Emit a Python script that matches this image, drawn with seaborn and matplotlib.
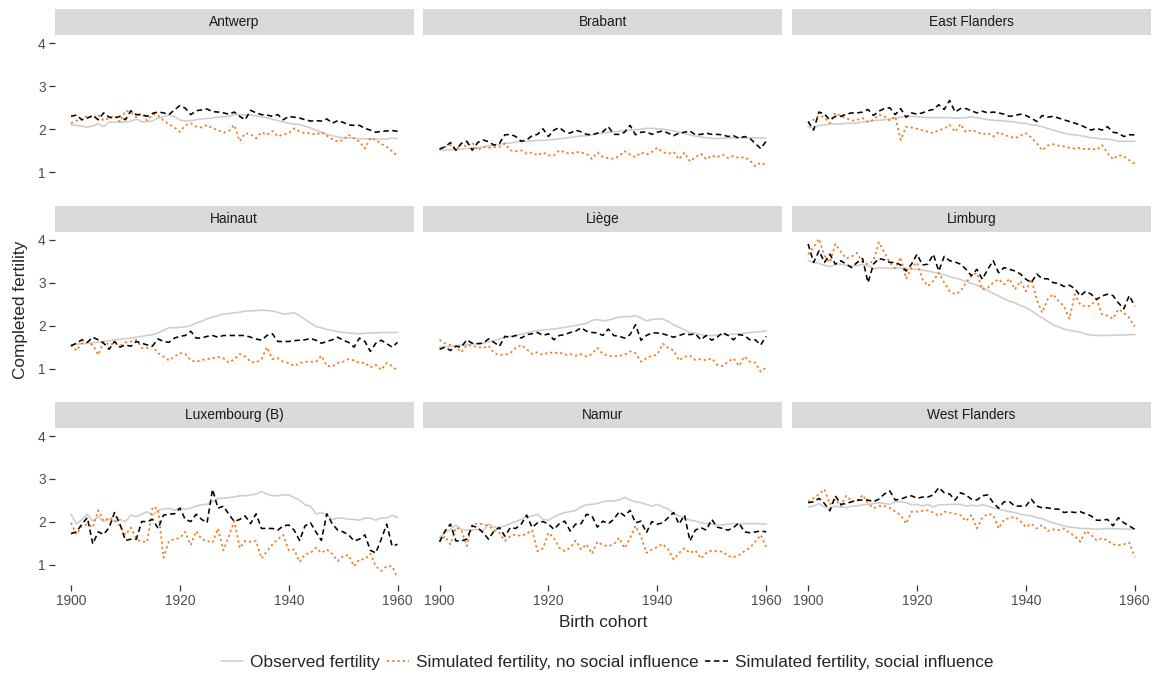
import matplotlib
matplotlib.use("Agg")
import matplotlib.pyplot as plt
from matplotlib.lines import Line2D
from matplotlib.patches import Rectangle
import pandas as pd
import seaborn as sns

# birth cohorts 1900..1960, one value per year
years = list(range(1900, 1961))
provinces = ["Antwerp", "Brabant", "East Flanders", "Hainaut", "Liège", "Limburg",
             "Luxembourg (B)", "Namur", "West Flanders"]
series_names = ["Observed fertility",
                "Simulated fertility, no social influence",
                "Simulated fertility, social influence"]

# --- Antwerp
obs_antwerp = [2.10, 2.09, 2.07, 2.05, 2.08, 2.13, 2.06, 2.17, 2.17, 2.17,
               2.17, 2.18, 2.24, 2.17, 2.18, 2.19, 2.26, 2.29, 2.33, 2.30,
               2.21, 2.19, 2.20, 2.22, 2.24, 2.25, 2.26, 2.28, 2.29, 2.30,
               2.34, 2.34, 2.33, 2.33, 2.31, 2.29, 2.27, 2.23, 2.20, 2.17,
               2.14, 2.12, 2.11, 2.07, 2.03, 1.98, 1.93, 1.88, 1.85, 1.82,
               1.80, 1.80, 1.79, 1.78, 1.78, 1.77, 1.77, 1.77, 1.77, 1.80,
               1.78]
nosoc_antwerp = [2.14, 2.20, 2.22, 2.32, 2.26, 2.34, 2.20, 2.26, 2.32, 2.17,
                 2.43, 2.40, 2.28, 2.37, 2.20, 2.35, 2.32, 2.20, 2.12, 2.04,
                 1.94, 2.09, 2.14, 2.06, 2.04, 2.10, 2.02, 1.98, 1.92, 1.96,
                 2.10, 1.72, 1.91, 1.88, 1.79, 1.93, 1.87, 1.96, 1.83, 1.88,
                 1.91, 2.02, 1.94, 1.91, 1.91, 1.87, 1.93, 1.85, 1.77, 1.71,
                 1.75, 1.87, 1.79, 1.71, 1.55, 1.80, 1.75, 1.66, 1.59, 1.49,
                 1.38]
soc_antwerp = [2.30, 2.33, 2.22, 2.26, 2.32, 2.22, 2.38, 2.28, 2.26, 2.30,
               2.22, 2.43, 2.34, 2.34, 2.30, 2.37, 2.40, 2.38, 2.34, 2.45,
               2.55, 2.49, 2.34, 2.43, 2.45, 2.47, 2.41, 2.40, 2.38, 2.35,
               2.40, 2.30, 2.22, 2.44, 2.38, 2.34, 2.33, 2.30, 2.34, 2.22,
               2.30, 2.28, 2.26, 2.22, 2.19, 2.20, 2.19, 2.24, 2.14, 2.20,
               2.16, 2.10, 2.09, 2.09, 2.02, 1.98, 1.93, 1.95, 1.96, 1.97,
               1.95]

# --- Brabant
obs_brabant = [1.51, 1.52, 1.52, 1.53, 1.54, 1.55, 1.56, 1.57, 1.59, 1.61,
               1.63, 1.65, 1.67, 1.68, 1.70, 1.71, 1.72, 1.73, 1.74, 1.74,
               1.75, 1.76, 1.78, 1.79, 1.81, 1.83, 1.84, 1.85, 1.87, 1.89,
               1.91, 1.93, 1.94, 1.95, 1.97, 1.98, 1.99, 2.00, 2.02, 2.02,
               2.01, 2.00, 1.98, 1.96, 1.93, 1.90, 1.87, 1.84, 1.82, 1.80,
               1.79, 1.78, 1.79, 1.80, 1.80, 1.80, 1.80, 1.80, 1.80, 1.80,
               1.80]
nosoc_brabant = [1.54, 1.59, 1.63, 1.51, 1.67, 1.59, 1.69, 1.51, 1.59, 1.57,
                 1.58, 1.59, 1.67, 1.51, 1.49, 1.51, 1.43, 1.46, 1.39, 1.46,
                 1.39, 1.39, 1.51, 1.46, 1.43, 1.47, 1.46, 1.43, 1.31, 1.46,
                 1.35, 1.33, 1.31, 1.38, 1.49, 1.41, 1.35, 1.46, 1.41, 1.47,
                 1.57, 1.47, 1.43, 1.47, 1.30, 1.46, 1.25, 1.35, 1.43, 1.30,
                 1.39, 1.35, 1.41, 1.33, 1.38, 1.33, 1.35, 1.28, 1.14, 1.22,
                 1.16]
soc_brabant = [1.54, 1.59, 1.69, 1.51, 1.67, 1.72, 1.51, 1.69, 1.75, 1.71,
               1.63, 1.67, 1.87, 1.88, 1.83, 1.72, 1.75, 1.85, 1.88, 2.01,
               1.83, 1.98, 2.04, 1.94, 1.91, 1.98, 1.94, 1.88, 1.87, 1.91,
               1.94, 2.06, 1.88, 1.88, 1.93, 2.09, 1.87, 1.93, 1.94, 1.88,
               1.93, 1.96, 1.91, 1.85, 1.91, 1.93, 1.96, 1.87, 1.88, 1.91,
               1.88, 1.88, 1.87, 1.83, 1.85, 1.79, 1.83, 1.79, 1.67, 1.55,
               1.72]

# --- East Flanders
obs_eflanders = [2.06, 2.02, 2.09, 2.10, 2.12, 2.12, 2.12, 2.14, 2.14, 2.14,
                 2.17, 2.18, 2.20, 2.21, 2.22, 2.24, 2.26, 2.28, 2.29, 2.30,
                 2.29, 2.28, 2.27, 2.27, 2.27, 2.27, 2.27, 2.26, 2.26, 2.27,
                 2.29, 2.27, 2.25, 2.22, 2.21, 2.20, 2.19, 2.18, 2.17, 2.14,
                 2.14, 2.10, 2.09, 2.06, 2.02, 1.98, 1.94, 1.91, 1.88, 1.87,
                 1.85, 1.83, 1.80, 1.79, 1.77, 1.77, 1.75, 1.72, 1.72, 1.72,
                 1.72]
nosoc_eflanders = [2.14, 2.22, 2.32, 2.28, 2.14, 2.38, 2.30, 2.26, 2.20, 2.22,
                   2.26, 2.17, 2.22, 2.34, 2.30, 2.20, 2.30, 1.75, 2.06, 2.04,
                   2.01, 1.98, 1.94, 1.91, 1.98, 2.01, 2.10, 1.94, 2.12, 1.93,
                   1.98, 1.94, 1.88, 1.91, 1.83, 1.93, 1.87, 1.83, 1.79, 1.85,
                   1.91, 1.81, 1.67, 1.51, 1.62, 1.65, 1.62, 1.60, 1.57, 1.55,
                   1.57, 1.53, 1.55, 1.52, 1.63, 1.45, 1.30, 1.40, 1.37, 1.28,
                   1.20]
soc_eflanders = [2.18, 1.98, 2.40, 2.35, 2.22, 2.30, 2.30, 2.35, 2.38, 2.38,
                 2.40, 2.46, 2.32, 2.42, 2.48, 2.50, 2.34, 2.48, 2.28, 2.38,
                 2.35, 2.38, 2.43, 2.46, 2.57, 2.46, 2.67, 2.40, 2.48, 2.48,
                 2.43, 2.38, 2.42, 2.38, 2.40, 2.38, 2.35, 2.30, 2.32, 2.35,
                 2.32, 2.26, 2.18, 2.32, 2.28, 2.30, 2.26, 2.22, 2.18, 2.14,
                 2.10, 2.04, 1.98, 2.02, 1.98, 2.06, 1.93, 1.91, 1.83, 1.87,
                 1.87]

# --- Hainaut
obs_hainaut = [1.55, 1.57, 1.58, 1.59, 1.60, 1.62, 1.63, 1.65, 1.67, 1.68,
               1.70, 1.71, 1.73, 1.75, 1.77, 1.79, 1.83, 1.89, 1.95, 1.95,
               1.96, 1.97, 2.00, 2.06, 2.10, 2.16, 2.20, 2.23, 2.27, 2.28,
               2.30, 2.31, 2.34, 2.34, 2.35, 2.36, 2.35, 2.34, 2.31, 2.27,
               2.28, 2.30, 2.23, 2.14, 2.06, 1.98, 1.95, 1.91, 1.89, 1.86,
               1.84, 1.83, 1.82, 1.81, 1.82, 1.83, 1.83, 1.84, 1.84, 1.84,
               1.84]
nosoc_hainaut = [1.55, 1.42, 1.59, 1.61, 1.55, 1.32, 1.63, 1.55, 1.59, 1.53,
                 1.61, 1.63, 1.67, 1.48, 1.48, 1.52, 1.36, 1.28, 1.19, 1.28,
                 1.36, 1.34, 1.19, 1.16, 1.20, 1.22, 1.24, 1.27, 1.24, 1.14,
                 1.22, 1.34, 1.28, 1.16, 1.14, 1.22, 1.50, 1.22, 1.24, 1.16,
                 1.13, 1.06, 1.13, 1.16, 1.16, 1.16, 1.30, 1.06, 1.05, 1.13,
                 1.16, 1.22, 1.19, 1.13, 1.14, 1.03, 1.09, 0.97, 1.13, 1.06,
                 0.95]
soc_hainaut = [1.53, 1.59, 1.67, 1.61, 1.73, 1.67, 1.59, 1.45, 1.63, 1.50,
               1.55, 1.52, 1.63, 1.59, 1.55, 1.53, 1.69, 1.63, 1.61, 1.71,
               1.75, 1.77, 1.87, 1.71, 1.71, 1.75, 1.77, 1.73, 1.77, 1.77,
               1.77, 1.77, 1.77, 1.73, 1.69, 1.66, 1.77, 1.81, 1.63, 1.63,
               1.63, 1.65, 1.66, 1.67, 1.70, 1.66, 1.59, 1.63, 1.67, 1.73,
               1.66, 1.61, 1.50, 1.71, 1.63, 1.40, 1.59, 1.66, 1.58, 1.50,
               1.61]

# --- Liège
obs_liege = [1.50, 1.51, 1.52, 1.53, 1.55, 1.56, 1.57, 1.58, 1.59, 1.62,
             1.65, 1.69, 1.73, 1.75, 1.77, 1.80, 1.83, 1.86, 1.88, 1.90,
             1.91, 1.92, 1.94, 1.96, 1.98, 2.00, 2.03, 2.05, 2.12, 2.14,
             2.11, 2.13, 2.16, 2.20, 2.21, 2.21, 2.23, 2.18, 2.11, 2.14,
             2.16, 2.15, 2.10, 2.02, 1.96, 1.90, 1.84, 1.82, 1.79, 1.77,
             1.77, 1.78, 1.79, 1.79, 1.80, 1.81, 1.82, 1.84, 1.85, 1.86,
             1.88]
nosoc_liege = [1.67, 1.59, 1.55, 1.50, 1.38, 1.55, 1.53, 1.50, 1.48, 1.53,
               1.36, 1.32, 1.32, 1.36, 1.48, 1.55, 1.45, 1.34, 1.38, 1.32,
               1.38, 1.36, 1.38, 1.32, 1.34, 1.30, 1.34, 1.28, 1.34, 1.48,
               1.34, 1.30, 1.28, 1.30, 1.32, 1.40, 1.36, 1.16, 1.24, 1.30,
               1.32, 1.58, 1.48, 1.42, 1.19, 1.28, 1.30, 1.20, 1.22, 1.19,
               1.24, 1.09, 1.06, 1.16, 1.24, 1.06, 1.28, 1.16, 1.14, 0.93,
               1.03]
soc_liege = [1.45, 1.50, 1.42, 1.52, 1.50, 1.67, 1.59, 1.58, 1.59, 1.69,
             1.61, 1.52, 1.75, 1.73, 1.77, 1.71, 1.79, 1.81, 1.84, 1.77,
             1.81, 1.67, 1.77, 1.79, 1.84, 1.87, 1.95, 1.87, 1.84, 1.83,
             1.77, 1.92, 1.77, 1.75, 1.71, 1.79, 2.02, 1.66, 1.77, 1.83,
             1.83, 1.81, 1.77, 1.73, 1.77, 1.81, 1.79, 1.81, 1.67, 1.77,
             1.66, 1.73, 1.84, 1.77, 1.67, 1.79, 1.77, 1.67, 1.67, 1.55,
             1.75]

# --- Limburg
obs_limburg = [3.51, 3.47, 3.45, 3.40, 3.37, 3.42, 3.43, 3.40, 3.38, 3.40,
               3.42, 3.40, 3.32, 3.35, 3.34, 3.33, 3.34, 3.34, 3.33, 3.32,
               3.31, 3.29, 3.27, 3.24, 3.21, 3.18, 3.14, 3.11, 3.07, 3.03,
               2.98, 2.94, 2.88, 2.81, 2.75, 2.69, 2.62, 2.57, 2.53, 2.47,
               2.42, 2.35, 2.26, 2.18, 2.10, 2.02, 1.97, 1.92, 1.89, 1.87,
               1.85, 1.80, 1.78, 1.77, 1.77, 1.77, 1.78, 1.78, 1.78, 1.79,
               1.79]
nosoc_limburg = [3.66, 3.82, 4.02, 3.63, 3.47, 3.90, 3.72, 3.56, 3.61, 3.69,
                 3.47, 3.43, 3.51, 3.94, 3.70, 3.47, 3.33, 3.59, 3.09, 3.35,
                 3.47, 3.08, 2.92, 3.04, 3.23, 3.00, 2.80, 2.73, 2.80, 3.00,
                 3.16, 3.23, 2.84, 2.88, 3.00, 3.08, 2.96, 3.09, 2.84, 3.04,
                 2.80, 3.08, 2.61, 2.30, 2.61, 2.73, 2.57, 2.45, 2.16, 2.73,
                 2.49, 2.44, 2.47, 2.61, 2.26, 2.23, 2.16, 2.38, 2.30, 2.18,
                 1.98]
soc_limburg = [3.90, 3.47, 3.74, 3.47, 3.66, 3.43, 3.51, 3.43, 3.35, 3.47,
               3.56, 3.00, 3.43, 3.56, 3.53, 3.47, 3.47, 3.41, 3.27, 3.43,
               3.66, 3.41, 3.43, 3.66, 3.27, 3.61, 3.51, 3.48, 3.43, 3.31,
               3.16, 3.31, 3.08, 3.31, 3.51, 3.23, 3.35, 3.31, 3.27, 3.20,
               3.08, 3.00, 3.20, 3.09, 3.09, 3.00, 2.98, 2.91, 2.94, 2.86,
               2.69, 2.80, 2.73, 2.61, 2.69, 2.73, 2.70, 2.53, 2.39, 2.70,
               2.45]

# --- Luxembourg (B)
obs_luxembourg = [2.18, 1.95, 2.06, 2.18, 2.02, 2.12, 2.01, 2.06, 2.02, 2.06,
                  2.01, 2.16, 2.12, 2.18, 2.24, 2.16, 2.27, 2.30, 2.32, 2.27,
                  2.33, 2.30, 2.32, 2.37, 2.40, 2.41, 2.47, 2.55, 2.55, 2.57,
                  2.58, 2.61, 2.61, 2.63, 2.65, 2.71, 2.65, 2.61, 2.61, 2.63,
                  2.63, 2.57, 2.51, 2.40, 2.37, 2.19, 2.22, 2.16, 2.06, 2.09,
                  2.09, 2.06, 2.06, 2.04, 2.09, 2.09, 2.04, 2.10, 2.09, 2.16,
                  2.10]
nosoc_luxembourg = [1.98, 1.71, 1.91, 1.95, 1.87, 2.27, 2.02, 2.10, 2.04, 1.91,
                    1.70, 1.87, 1.60, 1.54, 1.54, 2.35, 2.30, 1.17, 1.56, 1.60,
                    1.63, 1.77, 1.46, 1.79, 1.60, 1.56, 1.52, 1.85, 1.34, 1.67,
                    2.02, 1.39, 1.56, 1.54, 1.56, 1.15, 1.32, 1.48, 1.60, 1.70,
                    1.34, 1.36, 1.07, 1.25, 1.28, 1.40, 1.28, 1.36, 1.26, 1.09,
                    1.21, 1.23, 0.97, 1.13, 1.13, 1.26, 0.97, 0.86, 0.97, 0.97,
                    0.70]
soc_luxembourg = [1.73, 1.77, 1.95, 2.10, 1.49, 1.77, 1.71, 1.87, 2.22, 1.95,
                  1.57, 1.60, 1.60, 2.01, 2.01, 2.06, 1.85, 2.16, 2.18, 2.19,
                  2.32, 2.06, 2.01, 2.18, 2.06, 1.98, 2.76, 2.32, 2.37, 2.18,
                  2.01, 2.06, 2.14, 1.96, 2.19, 1.85, 1.85, 1.85, 1.81, 1.91,
                  1.93, 1.81, 1.57, 1.91, 1.98, 1.77, 1.57, 2.19, 1.96, 1.81,
                  1.77, 1.70, 1.56, 1.60, 1.70, 1.34, 1.28, 1.60, 1.95, 1.44,
                  1.48]

# --- Namur
obs_namur = [1.63, 1.75, 1.83, 1.93, 1.83, 1.81, 1.81, 1.83, 1.79, 1.95,
             1.88, 1.87, 1.91, 1.96, 2.01, 2.06, 2.12, 2.14, 2.18, 2.06,
             2.04, 2.12, 2.18, 2.22, 2.24, 2.27, 2.35, 2.40, 2.41, 2.43,
             2.47, 2.49, 2.49, 2.51, 2.57, 2.51, 2.47, 2.45, 2.41, 2.37,
             2.41, 2.35, 2.30, 2.19, 2.14, 2.10, 2.04, 2.02, 1.98, 1.96,
             1.95, 1.93, 1.93, 1.95, 1.96, 1.96, 1.96, 1.96, 1.96, 1.96,
             1.95]
nosoc_namur = [1.54, 1.67, 1.48, 1.87, 1.81, 1.44, 1.95, 1.96, 1.95, 1.91,
               1.81, 1.75, 1.56, 1.67, 1.71, 1.67, 1.73, 1.81, 1.32, 1.39,
               1.75, 1.63, 1.40, 1.32, 1.40, 1.57, 1.36, 1.48, 1.26, 1.54,
               1.46, 1.44, 1.48, 1.63, 1.39, 1.63, 1.91, 1.67, 1.28, 1.36,
               1.42, 1.49, 1.36, 1.13, 1.28, 1.39, 1.28, 1.34, 1.15, 1.28,
               1.34, 1.32, 1.31, 1.21, 1.18, 1.23, 1.32, 1.40, 1.54, 1.70,
               1.42]
soc_namur = [1.54, 1.79, 1.95, 1.56, 1.56, 1.60, 1.91, 1.87, 1.75, 1.60,
             1.79, 1.87, 1.67, 1.87, 1.85, 1.95, 2.16, 1.87, 1.98, 2.01,
             1.95, 1.83, 1.96, 2.02, 1.79, 1.95, 1.96, 2.18, 2.14, 1.88,
             2.02, 1.96, 2.06, 2.24, 2.14, 2.27, 1.98, 2.02, 1.75, 2.01,
             1.95, 1.98, 2.10, 2.22, 1.95, 2.16, 1.56, 1.81, 1.87, 1.81,
             2.06, 1.88, 1.85, 1.81, 1.87, 1.98, 1.77, 1.75, 1.77, 1.79,
             1.77]

# --- West Flanders
obs_wflanders = [2.35, 2.37, 2.43, 2.35, 2.32, 2.37, 2.35, 2.33, 2.37, 2.37,
                 2.40, 2.41, 2.43, 2.45, 2.43, 2.41, 2.47, 2.47, 2.45, 2.40,
                 2.41, 2.37, 2.41, 2.35, 2.40, 2.40, 2.41, 2.41, 2.41, 2.37,
                 2.39, 2.37, 2.40, 2.37, 2.33, 2.30, 2.27, 2.24, 2.22, 2.18,
                 2.16, 2.14, 2.10, 2.08, 2.02, 1.98, 1.95, 1.91, 1.88, 1.87,
                 1.85, 1.85, 1.84, 1.83, 1.84, 1.85, 1.84, 1.84, 1.84, 1.83,
                 1.84]
nosoc_wflanders = [2.47, 2.55, 2.65, 2.76, 2.41, 2.53, 2.37, 2.61, 2.49, 2.47,
                   2.63, 2.43, 2.32, 2.37, 2.37, 2.33, 2.24, 2.16, 1.96, 2.24,
                   2.24, 2.26, 2.27, 2.22, 2.14, 2.24, 2.22, 2.19, 2.16, 2.02,
                   2.16, 1.85, 2.10, 2.19, 2.16, 1.85, 2.06, 2.09, 2.12, 2.02,
                   1.88, 1.96, 1.85, 1.93, 1.79, 1.83, 1.81, 1.85, 1.75, 1.67,
                   1.54, 1.79, 1.70, 1.57, 1.62, 1.57, 1.48, 1.46, 1.48, 1.52,
                   1.18]
soc_wflanders = [2.45, 2.47, 2.55, 2.43, 2.26, 2.61, 2.41, 2.43, 2.47, 2.51,
                 2.51, 2.51, 2.47, 2.53, 2.65, 2.72, 2.51, 2.53, 2.58, 2.61,
                 2.55, 2.58, 2.58, 2.63, 2.80, 2.68, 2.65, 2.51, 2.68, 2.63,
                 2.53, 2.51, 2.61, 2.63, 2.45, 2.32, 2.47, 2.47, 2.37, 2.37,
                 2.37, 2.53, 2.37, 2.33, 2.33, 2.30, 2.30, 2.22, 2.24, 2.22,
                 2.24, 2.19, 2.14, 2.04, 2.04, 2.06, 1.91, 2.10, 1.98, 1.91,
                 1.83]

observed = [obs_antwerp, obs_brabant, obs_eflanders, obs_hainaut, obs_liege,
            obs_limburg, obs_luxembourg, obs_namur, obs_wflanders]
no_social = [nosoc_antwerp, nosoc_brabant, nosoc_eflanders, nosoc_hainaut, nosoc_liege,
             nosoc_limburg, nosoc_luxembourg, nosoc_namur, nosoc_wflanders]
social = [soc_antwerp, soc_brabant, soc_eflanders, soc_hainaut, soc_liege,
          soc_limburg, soc_luxembourg, soc_namur, soc_wflanders]

# long table for seaborn
rows = []
for i, prov in enumerate(provinces):
    for name, table in zip(series_names, [observed, no_social, social]):
        for yr, val in zip(years, table[i]):
            rows.append((prov, name, yr, val))
df = pd.DataFrame(rows, columns=["province", "series", "cohort", "fertility"])

sns.set_style("white")
plt.rcParams["font.family"] = ["Liberation Sans", "DejaVu Sans"]

colors = dict(zip(series_names, ["#cfcfcf", "#f47b20", "#000000"]))
dashes = dict(zip(series_names, ["", (1.3, 1.7), (3.4, 2.2)]))
widths = dict(zip(series_names, [1.2, 1.25, 1.15]))

g = sns.relplot(data=df, x="cohort", y="fertility", hue="series", style="series",
                col="province", col_wrap=3, kind="line", col_order=provinces,
                hue_order=series_names, style_order=series_names,
                palette=colors, dashes=dashes, linewidth=1.15,
                estimator=None, errorbar=None, legend=False,
                height=1.57, aspect=2.28)

fig = g.figure
fig.set_size_inches(11.56, 6.77)
fig.subplots_adjust(left=0.0473, right=0.9957, top=0.9479, bottom=0.1359,
                    wspace=0.026, hspace=0.251)

# ggplot-style 5% expansion of the shared scales
ylo, yhi = df["fertility"].min(), df["fertility"].max()
ypad = 0.05 * (yhi - ylo)
g.set(xlim=(1897, 1963), ylim=(ylo - ypad, yhi + ypad))
g.set_axis_labels("", "")

for i, (ax, prov) in enumerate(zip(g.axes.flat, provinces)):
    row, col = divmod(i, 3)
    ax.set_title("")
    for line, name in zip(ax.get_lines(), series_names):
        line.set_linewidth(widths[name])
    for spine in ax.spines.values():
        spine.set_visible(False)
    ax.set_xticks([1900, 1920, 1940, 1960])
    ax.set_yticks([1, 2, 3, 4])
    ax.tick_params(length=4, width=0.9, color="#333333", labelcolor="#4d4d4d",
                   labelsize=9.9, pad=2.5)
    ax.tick_params(axis="y", left=(col == 0), labelleft=(col == 0))
    ax.tick_params(axis="x", bottom=(row == 2), labelbottom=(row == 2))
    # facet strip
    ax.add_patch(Rectangle((0, 1), 1, 0.166, transform=ax.transAxes,
                           facecolor="#d9d9d9", edgecolor="none", clip_on=False))
    ax.text(0.5, 1.083, prov, transform=ax.transAxes, ha="center", va="center",
            fontsize=9.9, color="#1a1a1a")

fig.text(0.5215, 0.081, "Birth cohort", ha="center", va="center", fontsize=12.4)
fig.text(0.0175, 0.542, "Completed fertility", ha="center", va="center",
         rotation=90, fontsize=12.4)

handles = [Line2D([], [], color=colors[series_names[0]], linewidth=1.2, linestyle="-"),
           Line2D([], [], color=colors[series_names[1]], linewidth=1.25,
                  dashes=dashes[series_names[1]]),
           Line2D([], [], color=colors[series_names[2]], linewidth=1.15,
                  dashes=dashes[series_names[2]])]
fig.legend(handles, series_names, loc="center", bbox_to_anchor=(0.525, 0.021),
           ncol=3, frameon=False, fontsize=12.4, handlelength=1.3,
           handletextpad=0.4, columnspacing=0.4)

fig.savefig("out.png", dpi=100)
